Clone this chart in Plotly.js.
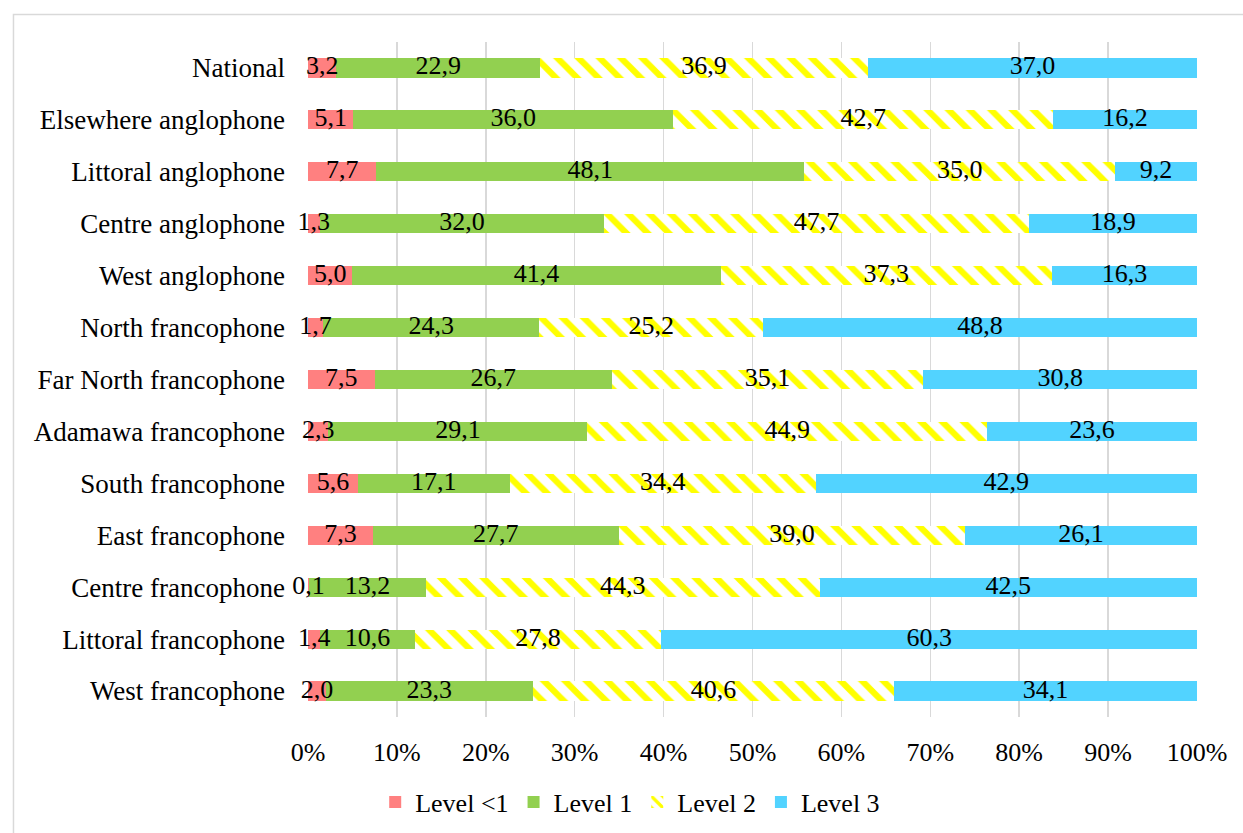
<!DOCTYPE html>
<html>
<head>
<meta charset="utf-8">
<script src="https://cdn.plot.ly/plotly-3.0.1.min.js"></script>
<style>
  html, body { margin: 0; padding: 0; background: #fff; }
  #chart { width: 1243px; height: 833px; }
</style>
</head>
<body>
<div id="chart"></div>
<script>
const categories = [
  "National", "Elsewhere anglophone", "Littoral anglophone", "Centre anglophone",
  "West anglophone", "North francophone", "Far North francophone", "Adamawa francophone",
  "South francophone", "East francophone", "Centre francophone", "Littoral francophone",
  "West francophone"
];
const seriesNames = ["Level <1", "Level 1", "Level 2", "Level 3"];
const levelBelow1 = [3.2, 5.1, 7.7, 1.3, 5.0, 1.7, 7.5, 2.3, 5.6, 7.3, 0.1, 1.4, 2.0];
const level1      = [22.9, 36.0, 48.1, 32.0, 41.4, 24.3, 26.7, 29.1, 17.1, 27.7, 13.2, 10.6, 23.3];
const level2      = [36.9, 42.7, 35.0, 47.7, 37.3, 25.2, 35.1, 44.9, 34.4, 39.0, 44.3, 27.8, 40.6];
const level3      = [37.0, 16.2, 9.2, 18.9, 16.3, 48.8, 30.8, 23.6, 42.9, 26.1, 42.5, 60.3, 34.1];
const xTickVals   = [0, 10, 20, 30, 40, 50, 60, 70, 80, 90, 100];

const FONT = '"Liberation Serif", "Times New Roman", serif';
const fmt = v => v.toFixed(1).replace('.', ',');

const seriesValues = [levelBelow1, level1, level2, level3];
const colors = ["#FF8080", "#92D050", "#FFFF00", "#52D3FF"];

const traces = seriesValues.map((vals, i) => {
  const marker = { color: colors[i], line: { width: 0 } };
  if (i === 2) {
    marker.color = "#FFFFFF";
    marker.pattern = { shape: "\\", fgcolor: "#FFFF00", bgcolor: "#FFFFFF", size: 15, solidity: 0.42, fillmode: "replace" };
  }
  return {
    type: "bar",
    orientation: "h",
    name: seriesNames[i],
    y: categories,
    x: vals,
    marker: marker,
    hoverinfo: "skip"
  };
});

// Data labels drawn on top of all bars (centered on each segment, normalized like barnorm)
const labX = [], labY = [], labT = [];
categories.forEach((cat, r) => {
  const total = seriesValues.reduce((s, arr) => s + arr[r], 0);
  let cum = 0;
  seriesValues.forEach(arr => {
    const v = arr[r];
    const mid = (cum + v / 2) / total * 100;
    cum += v;
    labX.push(mid);
    labY.push(cat);
    labT.push(fmt(v));
  });
});
traces.push({
  type: "scatter",
  mode: "text",
  x: labX,
  y: labY,
  text: labT,
  textposition: "middle center",
  textfont: { family: FONT, size: 26, color: "#000" },
  cliponaxis: false,
  showlegend: false,
  hoverinfo: "skip"
});

const layout = {
  width: 1243,
  height: 833,
  barmode: "stack",
  barnorm: "percent",
  bargap: 0.63,
  paper_bgcolor: "#fff",
  plot_bgcolor: "#fff",
  font: { family: FONT, size: 26, color: "#000" },
  margin: { l: 308, r: 46, t: 42, b: 116, pad: 0, autoexpand: false },
  showlegend: true,
  legend: {
    orientation: "h",
    xref: "container", yref: "container",
    x: 0.507, xanchor: "center",
    y: 0.037, yanchor: "middle",
    font: { family: FONT, size: 26, color: "#000" },
    traceorder: "normal",
    itemclick: false
  },
  xaxis: {
    range: [0, 100],
    autorange: false,
    tickvals: xTickVals,
    ticktext: xTickVals.map(v => v + "%"),
    showgrid: true,
    gridcolor: "#D9D9D9",
    gridwidth: 1.5,
    zeroline: false,
    showline: false,
    ticks: "",
    ticklabelstandoff: 17,
    tickfont: { family: FONT, size: 26, color: "#000" },
    fixedrange: true
  },
  yaxis: {
    type: "category",
    categoryorder: "array",
    categoryarray: categories,
    range: [categories.length - 0.5, -0.5],
    autorange: false,
    showgrid: false,
    zeroline: false,
    showline: false,
    ticks: "",
    ticklabelstandoff: 22,
    tickfont: { family: FONT, size: 27, color: "#000" },
    fixedrange: true
  },
  shapes: [{
    type: "rect",
    xref: "paper", yref: "paper",
    x0: -0.3313, x1: 1.2, y0: -0.3, y1: 1.0409,
    line: { color: "#D9D9D9", width: 1.5 },
    fillcolor: "rgba(0,0,0,0)",
    layer: "below"
  }]
};

Plotly.newPlot("chart", traces, layout, { displayModeBar: false, staticPlot: true });
</script>
</body>
</html>
